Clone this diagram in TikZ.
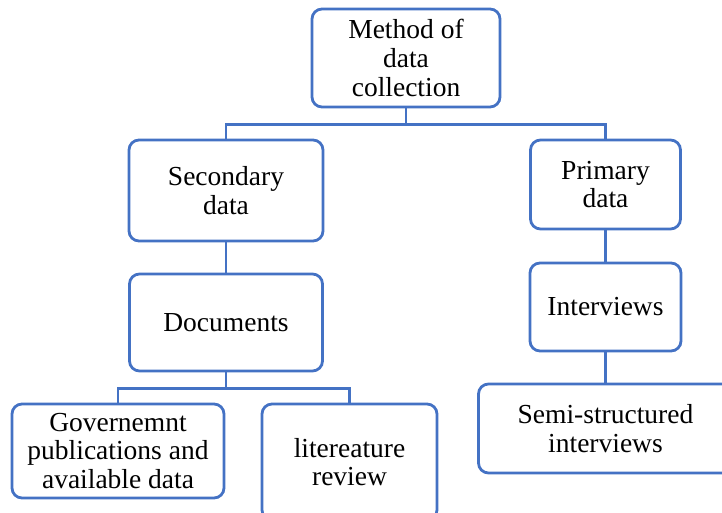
\documentclass[tikz,border=0pt]{standalone}
\usepackage{fontspec}
\setmainfont{Liberation Serif}
\definecolor{boxblue}{RGB}{68,114,196}
\tikzset{
  box/.style={draw=boxblue,line width=2.8pt,rounded corners=10pt,align=center,
    inner sep=2pt,font=\fontsize{27.5}{28.8}\selectfont},
  link/.style={draw=boxblue,line width=2.8pt}
}
\begin{document}
\begin{tikzpicture}[x=1pt,y=1pt]
   \useasboundingbox (0,0) rectangle (722,-513);
   \node[box,minimum width=188pt,minimum height=98pt] (method) at (406,-58) {Method of\\data\\collection};
   \node[box,minimum width=194pt,minimum height=101pt] (second) at (226,-190.5) {Secondary\\data};
   \node[box,minimum width=150pt,minimum height=89pt] (primary) at (605.5,-184.5) {Primary\\data};
   \node[box,minimum width=193pt,minimum height=97pt] (docs) at (226,-322.5) {Documents};
   \node[box,minimum width=151pt,minimum height=88pt] (interv) at (605.5,-307) {Interviews};
   \node[box,minimum width=212pt,minimum height=94pt] (govt) at (118,-451) {Governemnt\\publications and\\available data};
   \node[box,minimum width=175pt,minimum height=116pt] (litrev) at (349.5,-462) {litereature\\review};
   \node[box,minimum width=254pt,minimum height=89pt] (semi) at (605.5,-428.5) {Semi-structured\\interviews};
   \draw[link] (method.south) -- ++(0,-16) coordinate (j1) -| (second.north);
   \draw[link] (j1) -| (primary.north);
   \draw[link] (second.south) -- (docs.north);
   \draw[link] (docs.south) -- ++(0,-16) coordinate (j2) -| (govt.north);
   \draw[link] (j2) -| (litrev.north);
   \draw[link] (primary.south) -- (interv.north);
   \draw[link] (interv.south) -- (semi.north);
\end{tikzpicture}
\end{document}
